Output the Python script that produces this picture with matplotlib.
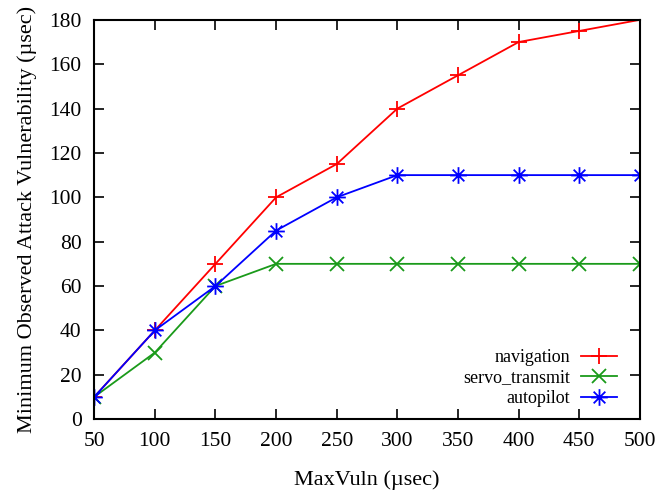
import matplotlib
matplotlib.use("Agg")
import matplotlib.pyplot as plt
from matplotlib.path import Path
import numpy as np

max_vuln = [50, 100, 150, 200, 250, 300, 350, 400, 450, 500]
navigation = [10, 40, 70, 100, 115, 140, 155, 170, 175, 180]
servo_transmit = [10, 30, 60, 70, 70, 70, 70, 70, 70, 70]
autopilot = [10, 40, 60, 85, 100, 110, 110, 110, 110, 110]

plt.rcParams["font.family"] = ["Liberation Serif", "DejaVu Serif"]
plt.rcParams["font.size"] = 15.5

# gnuplot style asterisk: + and x on top of each other
star_verts = [(-1, 0), (1, 0), (0, -1), (0, 1),
              (-0.7, -0.7), (0.7, 0.7), (-0.7, 0.7), (0.7, -0.7)]
star_codes = [Path.MOVETO, Path.LINETO] * 4
star = Path(star_verts, star_codes)

fig = plt.figure(figsize=(6.68, 4.96), dpi=100)
ax = fig.add_axes([0.141, 0.155, 0.817, 0.805])

ax.plot(max_vuln, navigation, color="#ff0000", marker="+", ms=12, mew=1.3,
        lw=1.3, label="navigation")
ax.plot(max_vuln, servo_transmit, color="#1a9a1a", marker="x", ms=10, mew=1.3,
        lw=1.3, label="servo_transmit")
ax.plot(max_vuln, autopilot, color="#0000ff", marker=star, ms=12, mew=1.3,
        mfc="none", lw=1.3, label="autopilot")

ax.set_xlim(50, 500)
ax.set_ylim(0, 180)
ax.set_xticks(np.arange(50, 501, 50))
ax.set_yticks(np.arange(0, 181, 20))
ax.tick_params(direction="in", top=True, right=True, length=7, width=1.2, pad=9)
for s in ax.spines.values():
    s.set_linewidth(1.5)

ax.set_xlabel("MaxVuln (µsec)", fontsize=16, labelpad=14)
ax.set_ylabel("Minimum Observed Attack Vulnerability (µsec)", fontsize=16,
              labelpad=9)

ax.legend(loc="lower right", bbox_to_anchor=(0.971, 0.012), frameon=False,
          fontsize=13, markerfirst=False, handlelength=2.0, labelspacing=0.2,
          borderaxespad=0, handletextpad=0.6)

fig.savefig("out.png", dpi=100)
